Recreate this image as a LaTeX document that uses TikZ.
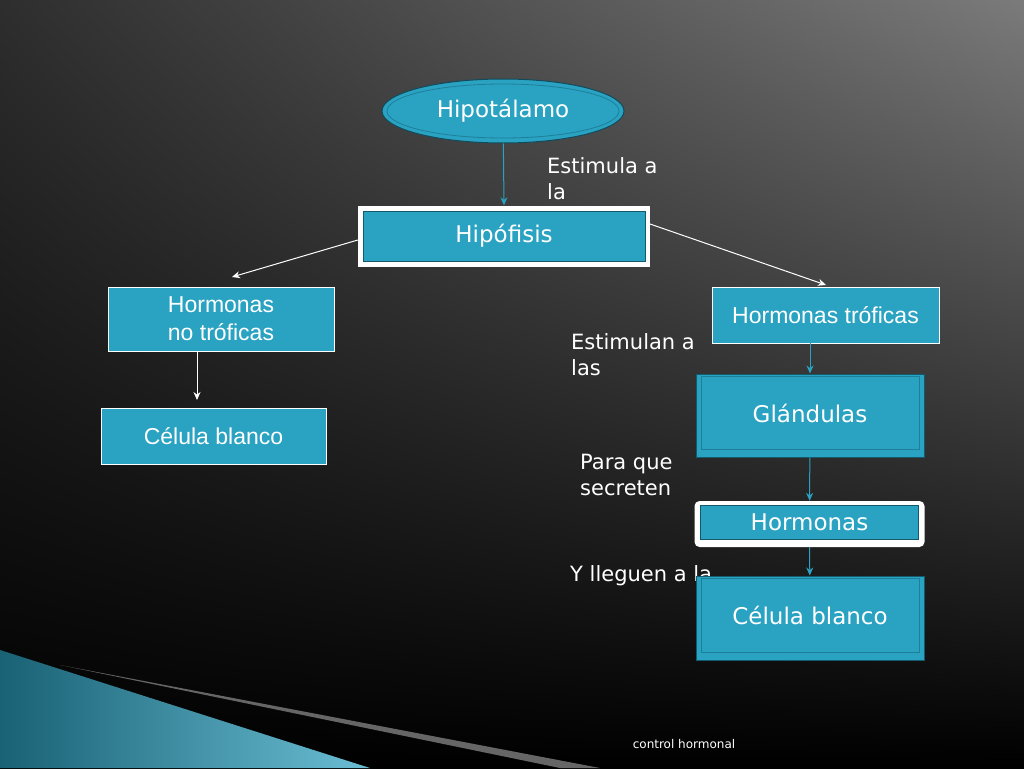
\documentclass[tikz,border=0pt]{standalone}
\usepackage{fontspec}
\setmainfont{DejaVu Sans}
\newfontfamily\arialf{Liberation Sans}
\usetikzlibrary{shapes.geometric,shadings,arrows.meta}
\definecolor{tb}{HTML}{2AA2C2}
\definecolor{tbd}{HTML}{1E7F9A}
\tikzset{
 conn/.style={draw=tb,-{Stealth[length=8pt,width=7pt]},line width=1pt},
 wconn/.style={draw=white,-{Stealth[length=8pt,width=7pt]},line width=1pt},
 lbl/.style={text=white,font=\fontsize{21}{26}\selectfont,align=left,anchor=north west,inner sep=0},
 abox/.style={draw=white,fill=tb,line width=0.8pt,text=white,font=\arialf\fontsize{23}{28}\selectfont,align=center},
 gbox/.style={draw=tbd!70!black,fill=tb,line width=1pt,text=white,font=\fontsize{23}{28}\selectfont}
}
\begin{document}
\begin{tikzpicture}[x=1pt,y=-1pt]
\useasboundingbox (0,0) rectangle (1024,768);
\shade[upper left=black!82,upper right=black!52,lower left=black,lower right=black] (0,0) rectangle (1024,768);
% streaks
\shade[left color=tb!60!black,right color=tb!70!white] (0,650) -- (0,768) -- (370,768) -- cycle;
\fill[black!60] (60,665) -- (600,768) -- (560,768) -- cycle;
% ellipse
\node[ellipse,fill=tb,draw=tbd!60!black,line width=1pt,minimum width=242pt,minimum height=64pt] (hipot) at (503,111) {};
\node[ellipse,draw=tbd,line width=0.8pt,minimum width=232pt,minimum height=54pt,text=white,font=\fontsize{23}{28}\selectfont] at (503,111) {Hipotálamo};
\node[lbl] (l1) at (547,157) {Estimula a\\la};
% hipofisis
\node[fill=white,minimum width=292pt,minimum height=61pt] (hipof) at (504,236) {};
\node[gbox,minimum width=282pt,minimum height=50pt] at (504,236) {Hipófisis};
\draw[conn] (hipot) -- (hipof.north);
% left
\node[abox,minimum width=226pt,minimum height=64pt] (hnt) at (221,319) {Hormonas\\ no tróficas};
\node[abox,minimum width=225pt,minimum height=56pt] (cb1) at (213.5,436) {Célula blanco};
\draw[wconn] (hipof.west) ++(0,4) -- (232,277);
\coordinate (ra) at (826,285);
\draw[wconn] (650,224) -- (ra);
\draw[wconn] (197,351) -- (197,400);
% right
\node[abox,minimum width=227pt,minimum height=56pt] (ht) at (825.5,315) {Hormonas tróficas};
\node[lbl] at (571,333) {Estimulan a\\las};
\node[gbox,minimum width=228pt,minimum height=83pt] (gl) at (810,415.5) {};
\node[draw=tbd,line width=0.6pt,minimum width=218pt,minimum height=73pt,text=white,font=\fontsize{23}{28}\selectfont] at (810,413) {Glándulas};
\draw[conn] (810,343) -- (gl.north);
\node[lbl] at (580,454) {Para que\\secreten};
\node[fill=white,rounded corners=5pt,minimum width=230pt,minimum height=46pt] (hor) at (809.5,524) {};
\node[gbox,minimum width=218pt,minimum height=34pt,inner sep=0] at (809.5,522) {Hormonas};
\draw[conn] (gl) -- (hor);
\node[lbl] at (570,565) {Y lleguen a la};
\node[gbox,minimum width=228pt,minimum height=84pt] (cb2) at (810,618) {};
\node[draw=tbd,line width=0.6pt,minimum width=218pt,minimum height=74pt,text=white,font=\fontsize{23}{28}\selectfont] at (810,615) {Célula blanco};
\draw[conn] (hor) -- (cb2);
\node[text=white,font=\fontsize{12}{14}\selectfont] at (684,744) {control hormonal};
\end{tikzpicture}
\end{document}
